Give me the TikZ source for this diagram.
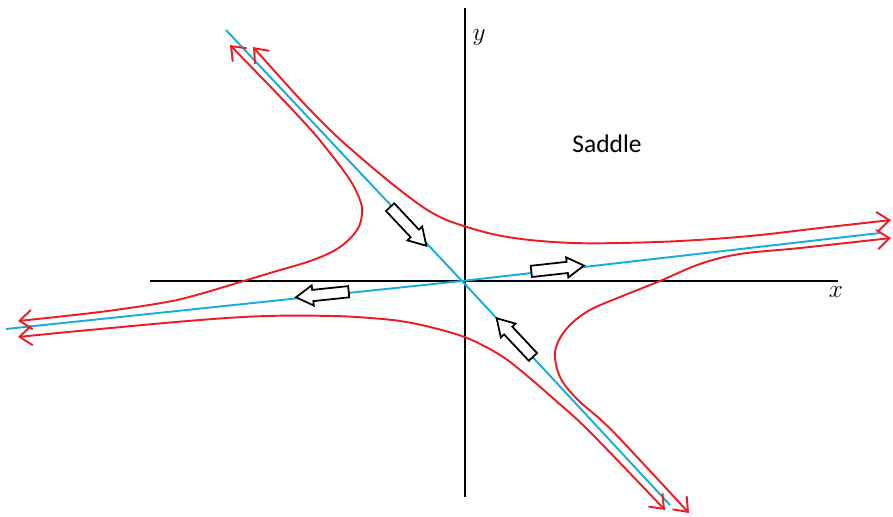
\documentclass[tikz,border=0pt]{standalone}
\usepackage{fontspec}
\newfontfamily\carlito{Carlito}
\usetikzlibrary{arrows.meta,shapes.arrows}
\definecolor{cblue}{RGB}{20,172,225}
\definecolor{cred}{RGB}{235,28,36}
\begin{document}
\begin{tikzpicture}[x=0.02cm,y=-0.02cm,
  axis/.style={line width=1.2pt,black},
  sep/.style={line width=1.1pt,cblue},
  traj/.style={line width=1.1pt,cred,{Straight Barb[length=7pt,width=11pt]}-{Straight Barb[length=7pt,width=11pt]}},
  flow/.style={draw=black,fill=white,line width=1pt,single arrow,minimum height=1.06cm,inner sep=0.095cm,single arrow head extend=0.09cm,single arrow tip angle=62},
  lab/.style={inner sep=0pt,font=\fontsize{14}{16}\selectfont}
 ]
\useasboundingbox (0,0) rectangle (893,517);
% axes
\coordinate (xa) at (150,281);
\coordinate (xb) at (838,281);
\coordinate (ya) at (465,8);
\coordinate (yb) at (465,497);
\draw[axis] (xa) -- (xb);
\draw[axis] (ya) -- (yb);
% separatrices
\coordinate (O) at (462,281);
\coordinate (ul) at (226,30);
\coordinate (lr) at (670,505);
\coordinate (ll) at (6,329);
\coordinate (rr) at (880,233);
\draw[sep] (ul) -- (O) -- (lr);
\draw[sep] (ll) -- (O) -- (rr);
% trajectories
\draw[traj] plot[smooth,tension=0.6] coordinates {(230,45) (302,120) (330,153) (350,180) (360,200) (362,214) (357,230) (340,247) (313,260) (270,273) (237,283) (200,294) (167,302) (100,312) (18,321)};
\draw[traj] plot[smooth,tension=0.6] coordinates {(253,47) (320,120) (367,163) (413,200) (440,217) (467,227) (497,235) (530,240) (573,243) (620,243) (680,241) (750,236) (820,228) (891,220)};
\draw[traj] plot[smooth,tension=0.6] coordinates {(18,337) (100,329) (200,320) (267,316) (333,316) (370,318) (400,321) (430,327) (467,338) (500,355) (525,374) (555,400) (590,432) (665,510)};
\draw[traj] plot[smooth,tension=0.6] coordinates {(891,238) (800,248) (740,254) (700,264) (660,281) (620,297) (590,310) (570,325) (558,342) (555,358) (561,379) (577,399) (601,420) (623,442) (689,513)};
% flow arrows
\node[flow,rotate=-46.8] (f1) at (405,223) {};
\node[flow,rotate=133.2] (f2) at (518,341) {};
\node[flow,rotate=6.3] (f3) at (553,269) {};
\node[flow,rotate=186] (f4) at (327,294) {};
% labels
\node[lab] (ylab) at (479,38) {$y$};
\node[lab] (xlab) at (836,292) {$x$};
\node[inner sep=0pt] (saddle) at (607,144) {\carlito\fontsize{14.5}{17}\selectfont Saddle};
\end{tikzpicture}
\end{document}
